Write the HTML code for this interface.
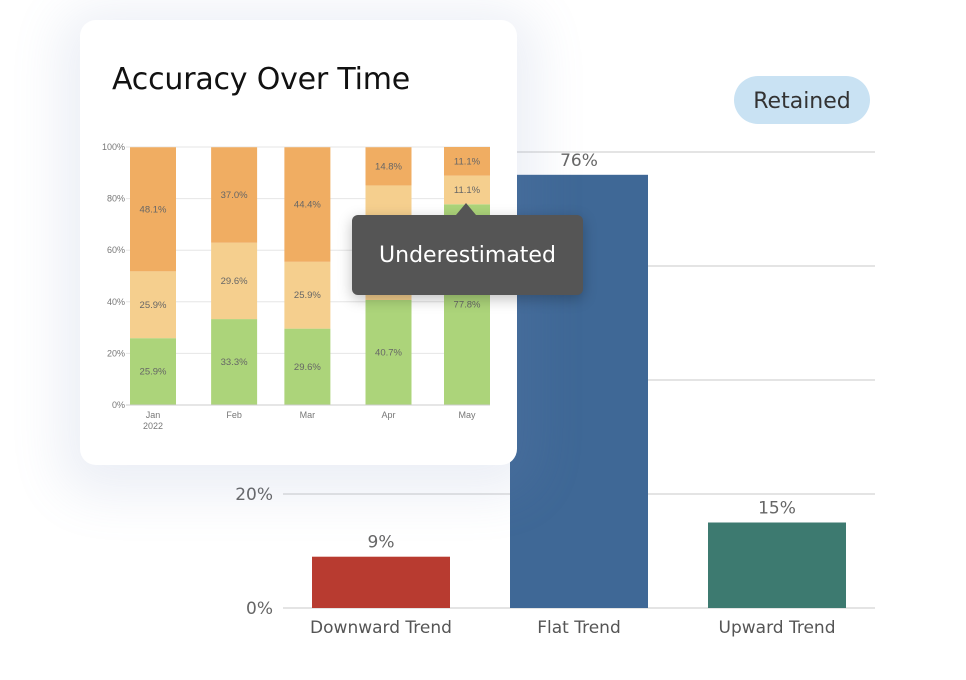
<!DOCTYPE html>
<html><head><meta charset="utf-8"><style>
body{margin:0;width:966px;height:680px;background:#fff;font-family:"Liberation Sans","DejaVu Sans",sans-serif;overflow:hidden;position:relative}
#bg{position:absolute;left:0;top:0}
#card{position:absolute;left:80px;top:20px;width:437px;height:445px;background:#fff;border-radius:16px;box-shadow:0 10px 50px 20px rgba(120,140,190,0.14)}
#title{position:absolute;left:112px;top:62px;font-size:30px;color:#111;font-family:"DejaVu Sans",sans-serif;letter-spacing:-0.2px}
#sm{position:absolute;left:0;top:0}
#tip{position:absolute;left:352px;top:215px;width:231px;height:80px;background:#555;border-radius:6px;color:#fff;font-size:22px;font-family:"DejaVu Sans",sans-serif;line-height:82px;text-align:center;box-shadow:0 4px 14px rgba(0,0,0,0.25)}
#tip:before{content:"";position:absolute;left:104px;top:-12px;border:10px solid transparent;border-top:0;border-bottom:12px solid #555}
#pill{position:absolute;left:734px;top:76px;width:136px;height:48px;border-radius:24px;background:#c9e2f3;color:#333;font-size:22px;font-family:"DejaVu Sans",sans-serif;line-height:52px;text-align:center}
</style></head><body>
<svg id="bg" width="966" height="680"></svg>
<div id="pill">Retained</div>
<div id="card"></div>
<div id="title">Accuracy Over Time</div>
<svg id="sm" width="966" height="680"></svg>
<div id="tip">Underestimated</div>
<script>
const bigCats=["Downward Trend","Flat Trend","Upward Trend"];
const bigVals=[9,76,15];
const bigColors=["#b83b30","#3f6896","#3d7a70"];
const bigTicks=[0,20,40,60,80];
const bigTickLabels=["0%","20%","","",""];
const months=["Jan","Feb","Mar","Apr","May"];
const monthDays=[0,31,59,90,120];
const green=[25.9,33.3,29.6,40.7,77.8];
const light=[25.9,29.6,25.9,44.4,11.1];
const orange=[48.1,37.0,44.4,14.8,11.1];
const smTicks=[0,20,40,60,80,100];
const NS="http://www.w3.org/2000/svg";
function mk(p,t,a,txt){const e=document.createElementNS(NS,t);for(const k in a)e.setAttribute(k,a[k]);if(txt!=null)e.textContent=txt;p.appendChild(e);return e;}
const bg=document.getElementById('bg');
const by=v=>608-v*5.7;
const bx=i=>381+i*198;
bigTicks.forEach((t,i)=>{
 const l=mk(bg,'line',{x1:283,x2:875,y1:by(t),y2:by(t),stroke:'#dcdcdc','stroke-width':1.5});
 
 
 if(bigTickLabels[i]){const tx=mk(bg,'text',{x:273,y:by(t)+6,'text-anchor':'end','font-size':17,fill:'#666','font-family':'DejaVu Sans, sans-serif'},bigTickLabels[i]);
 
 }
});
bigCats.forEach((c,i)=>{
 const r=mk(bg,'rect',{x:bx(i)-69,y:by(bigVals[i]),width:138,height:by(0)-by(bigVals[i]),fill:bigColors[i]});
 
 
 const v=mk(bg,'text',{x:bx(i),y:by(bigVals[i])-9,'text-anchor':'middle','font-size':17,fill:'#666','font-family':'DejaVu Sans, sans-serif'},bigVals[i]+'%');
 
 
 const t=mk(bg,'text',{x:bx(i),y:633,'text-anchor':'middle','font-size':17,fill:'#555','font-family':'DejaVu Sans, sans-serif'},c);
 
 
});
const sm=document.getElementById('sm');
const sy=v=>405-v*2.58;
const sx=d=>153+d*(467-153)/120;
smTicks.forEach(t=>{
 const l=mk(sm,'line',{x1:126,x2:490,y1:sy(t),y2:sy(t),stroke:'#e6e6e6','stroke-width':1});
 
 
 const tx=mk(sm,'text',{x:125,y:sy(t)+3,'text-anchor':'end','font-size':9,fill:'#777'},t+'%');
 
 
});
const series=[[green,'#acd47a','correct'],[light,'#f5cf8e','underestimated'],[orange,'#f0ad62','overestimated']];
months.forEach((m,i)=>{
 let base=0;const cx=sx(monthDays[i]);
 series.forEach(([arr,col,nm])=>{
  const v=arr[i];
  const r=mk(sm,'rect',{x:cx-23,y:sy(base+v),width:46,height:sy(base)-sy(base+v),fill:col});
  
  
  const t=mk(sm,'text',{x:cx,y:(sy(base)+sy(base+v))/2+3,'text-anchor':'middle','font-size':9.5,fill:'#666'},v.toFixed(1)+'%');
  
  
  base+=v;
 });
 const t=mk(sm,'text',{x:cx,y:418,'text-anchor':'middle','font-size':9,fill:'#777'},m);
 
 
});
const yr=mk(sm,'text',{x:sx(0),y:429,'text-anchor':'middle','font-size':9,fill:'#777'},'2022');


const ax=mk(sm,'line',{x1:126,x2:490,y1:405,y2:405,stroke:'#ccc'});


</script>
</body></html>
